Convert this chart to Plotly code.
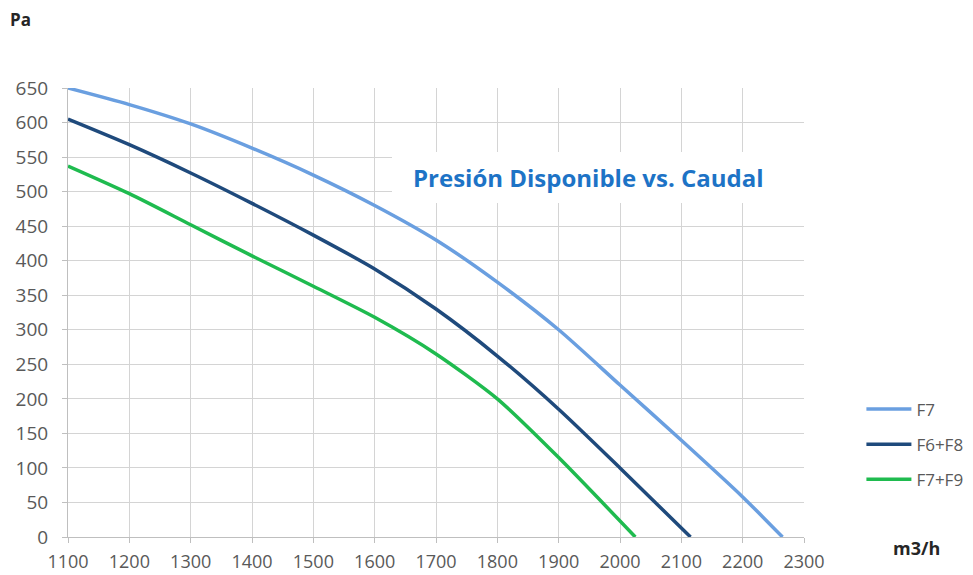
import plotly.graph_objects as go

# caudal (m3/h) and available pressure (Pa)
caudal_f7 = [1100, 1200, 1300, 1400, 1500, 1600, 1700, 1800, 1900, 2000, 2100, 2200, 2265]
presion_f7 = [650, 626, 598, 563, 524, 480, 430, 369, 300, 220, 140, 58, 0]

caudal_f6f8 = [1100, 1200, 1300, 1400, 1500, 1600, 1700, 1800, 1900, 2000, 2115]
presion_f6f8 = [605, 568, 527, 483, 437, 388, 330, 262, 185, 100, 0]

caudal_f7f9 = [1100, 1200, 1300, 1400, 1500, 1600, 1700, 1800, 1900, 2025]
presion_f7f9 = [537, 497, 452, 407, 363, 318, 265, 200, 115, 0]

series = [
    ("F7", caudal_f7, presion_f7, "#6a9fe0"),
    ("F6+F8", caudal_f6f8, presion_f6f8, "#1f4a7c"),
    ("F7+F9", caudal_f7f9, presion_f7f9, "#1fbb4f"),
]

FONT = "'Open Sans', sans-serif"
GRID = "#d4d4d4"

fig = go.Figure()
for name, x, y, color in series:
    fig.add_trace(go.Scatter(x=x, y=y, name=name, mode="lines",
                             line=dict(color=color, width=3.5, shape="spline", smoothing=0.7),
                             legendgroup=name))

axis_style = dict(showgrid=True, gridcolor=GRID, gridwidth=1,
                  showline=True, linecolor="#bfbfbf", linewidth=1,
                  ticks="outside", ticklen=5, tickcolor="#bfbfbf",
                  zeroline=False, automargin=False)

# the page body adds an 8px offset, so margins are shifted to compensate
fig.update_layout(
    width=973, height=575,
    margin=dict(l=60, r=177, t=80, b=46),
    paper_bgcolor="white", plot_bgcolor="white",
    font=dict(family=FONT, size=17, color="#595959"),
    showlegend=True,
    legend=dict(x=1.078, y=0.324, xanchor="left", yanchor="top",
                tracegroupgap=10, itemwidth=45,
                font=dict(size=17, color="#595959"),
                bgcolor="rgba(0,0,0,0)"),
    xaxis=dict(range=[1100, 2300], dtick=100, tick0=1100, ticklabelstandoff=3,
               tickfont=dict(size=18, color="#595959"), **axis_style),
    yaxis=dict(range=[0, 650], dtick=50, ticklabelstandoff=10,
               tickfont=dict(size=19, color="#595959"), **axis_style),
    shapes=[
        dict(type="rect", xref="paper", yref="paper", x0=0.4402, x1=1.0054,
             y0=0.7439, y1=0.8575, fillcolor="white", line=dict(width=0),
             layer="above"),
    ],
    annotations=[
        dict(text="<b>Presión Disponible vs. Caudal</b>", xref="paper", yref="paper",
             x=0.4655, y=0.8007, xanchor="left", yanchor="middle", showarrow=False,
             font=dict(family=FONT, size=24, color="#1d73c6")),
        dict(text="<b>Pa</b>", xref="paper", yref="paper", x=-0.082, y=1.153,
             xanchor="left", yanchor="middle", showarrow=False,
             font=dict(family=FONT, size=17, color="#262626")),
        dict(text="<b>m3/h</b>", xref="paper", yref="paper", x=1.118, y=-0.024,
             xanchor="left", yanchor="middle", showarrow=False,
             font=dict(family=FONT, size=18, color="#262626")),
    ],
)

fig.write_html("out.html")
